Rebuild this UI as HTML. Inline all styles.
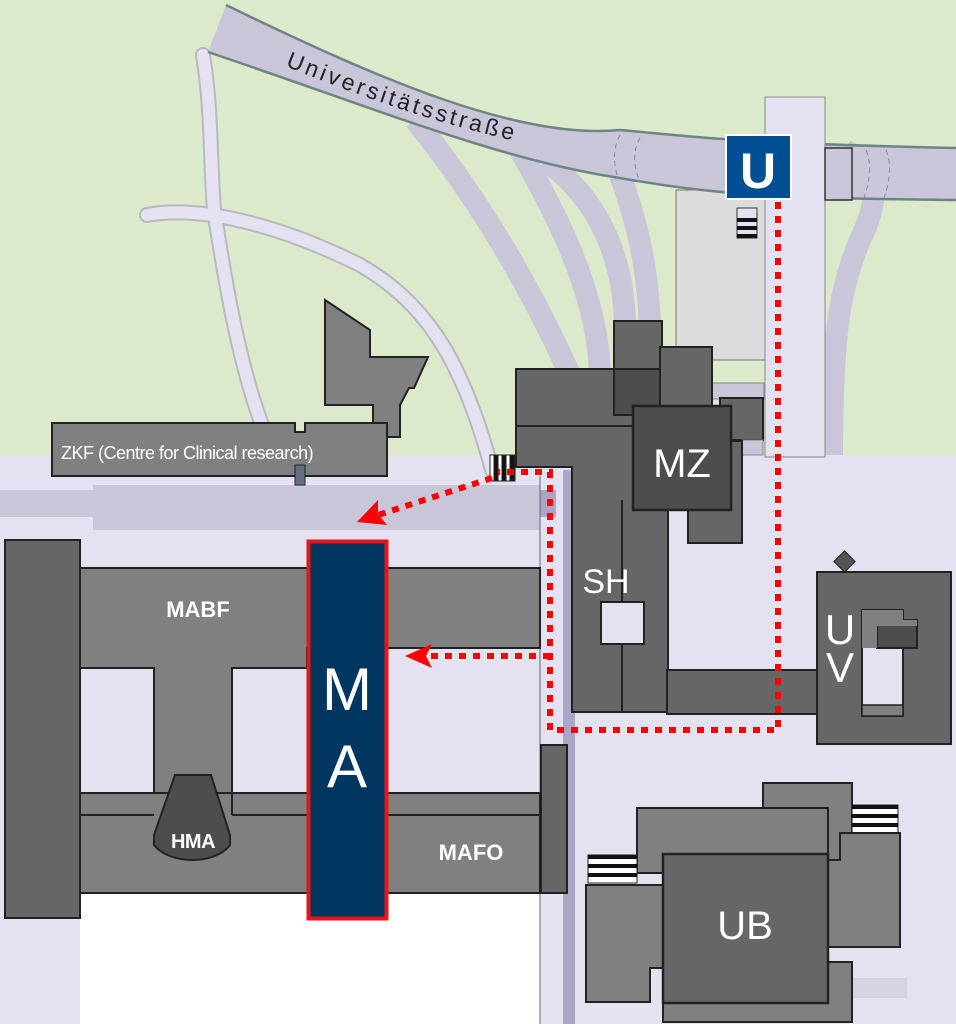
<!DOCTYPE html>
<html><head><meta charset="utf-8"><style>
html,body{margin:0;padding:0;background:#fff}
svg{display:block}
text{font-family:"Liberation Sans",Arial,sans-serif;fill:#fff}
</style></head><body>
<svg width="956" height="1024" viewBox="0 0 956 1024" xmlns="http://www.w3.org/2000/svg">
<rect x="0" y="0" width="956" height="460" fill="#dde9cb"/>
<rect x="0" y="455" width="956" height="569" fill="#e4e2f0"/>
<rect x="80" y="893" width="460" height="131" fill="#ffffff"/>
<rect x="676" y="190" width="90" height="170" fill="#dcdcdc" stroke="#777" stroke-width="1"/>
<g fill="none" stroke="#c9c6da" stroke-width="22" stroke-linecap="butt">
<path d="M415,120 C480,200 540,300 585,410"/>
<path d="M520,150 C560,220 600,300 600,380"/>
<path d="M545,160 C600,200 625,260 625,330"/>
<path d="M620,175 C640,230 650,280 650,340"/>
<path d="M845,150 C880,170 880,200 860,240 C840,290 832,330 832,455"/>
</g>
<g fill="none" stroke-linecap="round">
<path d="M203,55 C212,110 210,160 214,210 C225,280 238,360 262,425" stroke="#b8b8c0" stroke-width="16"/>
<path d="M147,215 C200,205 280,225 360,265 C420,300 460,350 492,470" stroke="#b8b8c0" stroke-width="16"/>
<path d="M203,55 C212,110 210,160 214,210 C225,280 238,360 262,425" stroke="#e4e2f0" stroke-width="12"/>
<path d="M147,215 C200,205 280,225 360,265 C420,300 460,350 492,470" stroke="#e4e2f0" stroke-width="12"/>
</g>
<path d="M226,5 C380,80 520,140 620,130 C680,135 720,143 956,148 L956,200 C800,198 730,198 620,178 C500,160 380,110 208,52 Z" fill="#c9c6da"/>
<path d="M226,5 C380,80 520,140 620,130 C680,135 720,143 956,148" fill="none" stroke="#6f8585" stroke-width="2.5"/>
<path d="M208,52 C380,110 500,160 620,178 C730,198 800,198 956,200" fill="none" stroke="#6f8585" stroke-width="2.5"/>
<path id="st" d="M285,66 C380,104 460,132 570,152" fill="none"/>
<text font-family="DejaVu Sans,sans-serif" style="fill:#222" font-size="23" letter-spacing="3.2"><textPath href="#st">Universitätsstraße</textPath></text>
<g fill="none" stroke="#888" stroke-width="1" stroke-dasharray="5,4">
<path d="M620,135 C612,150 614,165 618,178"/><path d="M640,138 C632,152 634,168 640,182"/>
<path d="M866,150 C872,165 870,180 864,198"/><path d="M886,150 C892,165 890,180 884,198"/>
</g>
<rect x="765" y="97" width="60" height="360" fill="#e4e2f0" stroke="#888" stroke-width="1"/>
<rect x="825" y="148" width="27" height="52" fill="#c9c6da" stroke="#333" stroke-width="1.5"/>
<rect x="712" y="383" width="52" height="16" fill="#c9c6da" stroke="#888"/>
<rect x="0" y="490" width="93" height="27" fill="#c9c6da"/>
<rect x="93" y="485" width="447" height="45" fill="#c9c6da"/>
<rect x="540" y="490" width="16" height="27" fill="#aaa6c6"/>
<rect x="563" y="470" width="12" height="554" fill="#aaa6c6"/>
<line x1="540" y1="476" x2="540" y2="1024" stroke="#666" stroke-width="1"/>
<path d="M325,300 L370,330 V357 L428,357 L414,388 H409 L400,405 V437 H373 V405 H325 Z" fill="#808080" stroke="#222" stroke-width="2"/>
<path d="M52,423 H295 V432 H305 V423 H387 V476 H52 Z" fill="#808080" stroke="#222" stroke-width="2"/>
<rect x="295" y="465" width="10" height="20" fill="#607080" stroke="#222"/>
<text x="61" y="459" font-size="18" letter-spacing="-0.5">ZKF (Centre for Clinical research)</text>
<rect x="614" y="321" width="48" height="50" fill="#666" stroke="#222" stroke-width="2"/>
<rect x="660" y="347" width="52" height="60" fill="#666" stroke="#222" stroke-width="2"/>
<rect x="720" y="398" width="43" height="42" fill="#666" stroke="#222" stroke-width="2"/>
<rect x="742" y="440" width="21" height="15" fill="#c9c6da" stroke="#888"/>
<rect x="688" y="441" width="54" height="102" fill="#666" stroke="#222" stroke-width="2"/>
<path d="M516,369 H660 V426 H668 V712 H572 V467 H516 Z" fill="#666" stroke="#222" stroke-width="2"/>
<line x1="516" y1="426" x2="633" y2="426" stroke="#222" stroke-width="2"/>
<line x1="622" y1="500" x2="622" y2="712" stroke="#222" stroke-width="2"/>
<rect x="614" y="369" width="46" height="46" fill="#4d4d4d" stroke="#222" stroke-width="2"/>
<rect x="633" y="406" width="98" height="104" fill="#4d4d4d" stroke="#222" stroke-width="2.5"/>
<text x="682" y="477" font-size="40" text-anchor="middle">MZ</text>
<rect x="601" y="602" width="43" height="42" fill="#e4e2f0" stroke="#222" stroke-width="2"/>
<text x="606" y="593" font-size="34" text-anchor="middle">SH</text>
<rect x="667" y="670" width="151" height="44" fill="#666" stroke="#222" stroke-width="2"/>
<g stroke="#222"><rect x="490" y="455" width="25" height="26" fill="#fff"/>
<rect x="494" y="455" width="4" height="26" fill="#111"/><rect x="502" y="455" width="4" height="26" fill="#111"/><rect x="510" y="455" width="4" height="26" fill="#111"/></g>
<rect x="737" y="208" width="20" height="30" fill="#e4e2f0" stroke="#333"/>
<rect x="737" y="218" width="20" height="4" fill="#111"/><rect x="737" y="226" width="20" height="4" fill="#111"/><rect x="737" y="234" width="20" height="4" fill="#111"/>
<rect x="837" y="554" width="15" height="15" fill="#555" stroke="#222" transform="rotate(45 844.5 561.5)"/>
<rect x="817" y="572" width="134" height="172" fill="#666" stroke="#222" stroke-width="2"/>
<rect x="862" y="610" width="41" height="106" fill="#e4e2f0" stroke="#222" stroke-width="2"/>
<rect x="877" y="620" width="40" height="28" fill="#4d4d4d" stroke="#222" stroke-width="2"/>
<path d="M862,610 H903 V620 H917 V626 H877 V648 H862 Z" fill="#808080"/>
<rect x="862" y="705" width="41" height="11" fill="#808080" stroke="#222" stroke-width="1.5"/>
<text x="840" y="644" font-size="42" text-anchor="middle">U</text>
<text x="840" y="682" font-size="42" text-anchor="middle">V</text>
<rect x="763" y="783" width="89" height="77" fill="#808080" stroke="#222" stroke-width="2"/>
<g fill="#111"><rect x="852" y="805" width="46" height="28" fill="#fff" stroke="#222"/>
<rect x="852" y="805" width="46" height="4"/><rect x="852" y="814" width="46" height="4"/><rect x="852" y="823" width="46" height="4"/></g>
<path d="M840,833 H900 V947 H828 V860 H840 Z" fill="#808080" stroke="#222" stroke-width="2"/>
<rect x="637" y="808" width="191" height="65" fill="#808080" stroke="#222" stroke-width="2"/>
<g fill="#111"><rect x="588" y="855" width="49" height="28" fill="#fff" stroke="#222"/>
<rect x="588" y="855" width="49" height="4"/><rect x="588" y="864" width="49" height="4"/><rect x="588" y="873" width="49" height="4"/></g>
<rect x="852" y="978" width="55" height="20" fill="#d5d3e0"/>
<rect x="663" y="962" width="189" height="60" fill="#808080" stroke="#222" stroke-width="2"/>
<path d="M586,885 H663 V968 H650 V1002 H586 Z" fill="#808080" stroke="#222" stroke-width="2"/>
<rect x="663" y="854" width="165" height="149" fill="#666" stroke="#222" stroke-width="2.5"/>
<text x="745" y="939" font-size="40" text-anchor="middle">UB</text>
<rect x="5" y="540" width="75" height="378" fill="#666" stroke="#222" stroke-width="2"/>
<path d="M80,568 H540 V648 H307 V668 H232 V793 H154 V668 H80 Z" fill="#808080" stroke="#222" stroke-width="2"/>
<rect x="80" y="793" width="460" height="100" fill="#808080" stroke="#222" stroke-width="2"/>
<line x1="80" y1="815" x2="154" y2="815" stroke="#222" stroke-width="2"/>
<line x1="232" y1="815" x2="540" y2="815" stroke="#222" stroke-width="2"/>
<line x1="232" y1="793" x2="232" y2="815" stroke="#222" stroke-width="2"/>
<rect x="541" y="745" width="26" height="148" fill="#666" stroke="#222" stroke-width="2"/>
<path d="M175,775 H211 L230,835 V845 C215,865 170,865 154,845 V835 Z" fill="#4d4d4d" stroke="#222" stroke-width="2"/>
<text x="193" y="848" font-size="20" font-weight="bold" text-anchor="middle" letter-spacing="-0.5">HMA</text>
<text x="198" y="617" font-size="22" font-weight="bold" text-anchor="middle">MABF</text>
<text x="471" y="860" font-size="22" font-weight="bold" text-anchor="middle">MAFO</text>
<rect x="308.5" y="541.5" width="78" height="377" fill="#003660" stroke="#e8141c" stroke-width="4"/>
<text x="347" y="710" font-size="60" text-anchor="middle">M</text>
<text x="347" y="787" font-size="60" text-anchor="middle">A</text>
<g fill="none" stroke="#ff0000" stroke-width="6" stroke-dasharray="7,7">
<path d="M778,202 V730 H550 V472 H498"/>
<path d="M550,656 H425"/>
<path d="M492,478 L375,516"/>
</g>
<path d="M405,656 L432,644 L426,656 L432,668 Z" fill="#ff0000"/>
<path d="M357,522 L378,500 L378,514 L387,525 Z" fill="#ff0000"/>
<rect x="726" y="135" width="65" height="64" fill="#004f93" stroke="#fff" stroke-width="2"/>
<text x="758" y="188" font-size="50" font-weight="bold" text-anchor="middle">U</text>
</svg>
</body></html>
